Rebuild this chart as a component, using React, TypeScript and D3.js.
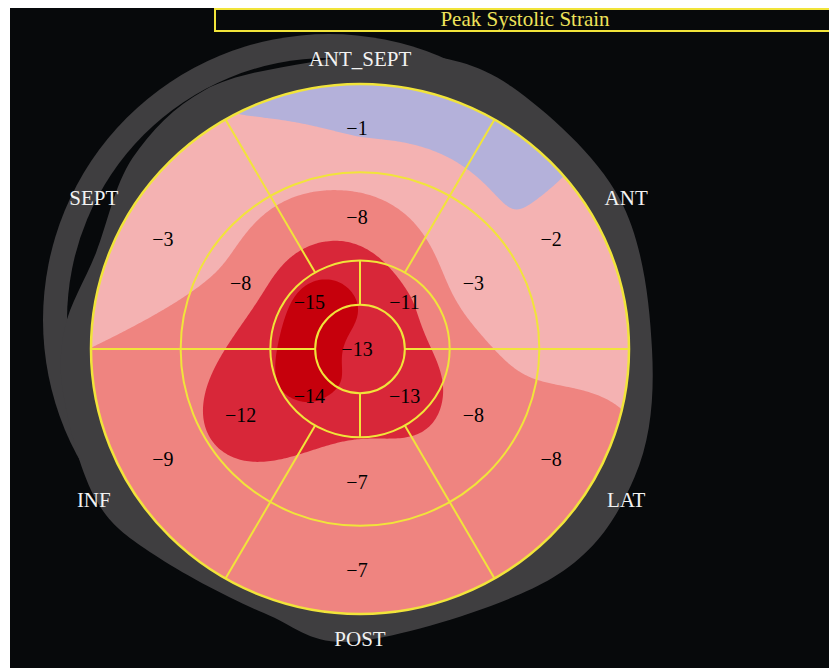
import React, { useMemo } from "react";
import * as d3 from "d3";

// ---------- data ----------
const regionNames = ["ANT_SEPT", "ANT", "LAT", "POST", "INF", "SEPT"];
const sixAngles = [90, 30, -30, -90, -150, 150]; // segment centres, deg, ccw from east
const basalValues = [-1, -2, -8, -7, -9, -3];
const midValues = [-8, -3, -8, -7, -12, -8];
const fourAngles = [135, 45, -45, -135];
const apicalValues = [-15, -11, -13, -14];
const apexValue = -13;
const strainThresholds = [1.45, 5.8, 10.5, 13.75]; // |strain| colour steps
const titleText = "Peak Systolic Strain";

// outline of the grey myocardium ring (angle deg, radius px)
const grayProfile: [number, number][] = [
  [0, 292], [30, 300], [60, 303], [80, 300], [100, 291], [121, 302], [140, 297],
  [160, 281], [176, 296], [190, 300], [210, 304], [225, 291], [250, 281],
  [270, 292], [310, 299], [335, 303],
];

// ---------- styles / layout ----------
const W = 829, H = 668;
const CX = 360, CY = 349, RX = 269, RY = 265;
const BG = "#07090b";
const GRAY = "#3f3e40";
const YEL = "#f1e43a";
const levelColors = ["#b4b1da", "#f4b2b2", "#ef8480", "#d82739", "#c6000c"];
const FONT = "'Liberation Serif', 'Times New Roman', serif";
const deg = Math.PI / 180;

function solve(A: number[][], b: number[]) {
  const n = b.length;
  const M = A.map((row, i) => [...row, b[i]]);
  for (let c = 0; c < n; c++) {
    let p = c;
    for (let r = c + 1; r < n; r++) if (Math.abs(M[r][c]) > Math.abs(M[p][c])) p = r;
    [M[c], M[p]] = [M[p], M[c]];
    for (let r = c + 1; r < n; r++) {
      const f = M[r][c] / M[c][c];
      for (let k = c; k <= n; k++) M[r][k] -= f * M[c][k];
    }
  }
  const x = new Array(n).fill(0);
  for (let r = n - 1; r >= 0; r--) {
    let s = M[r][n];
    for (let k = r + 1; k < n; k++) s -= M[r][k] * x[k];
    x[r] = s / M[r][r];
  }
  return x;
}

// biharmonic spline surface through the segment values placed at segment centres
function buildField() {
  const pts: [number, number, number][] = [];
  pts.push([0, 0, apexValue]);
  fourAngles.forEach((a, i) => pts.push([0.25 * Math.cos(a * deg), 0.25 * Math.sin(a * deg), apicalValues[i]]));
  sixAngles.forEach((a, i) => pts.push([0.5 * Math.cos(a * deg), 0.5 * Math.sin(a * deg), midValues[i]]));
  sixAngles.forEach((a, i) => pts.push([(5 / 6) * Math.cos(a * deg), (5 / 6) * Math.sin(a * deg), basalValues[i]]));
  const g = (d: number) => (d <= 1e-12 ? 0 : d * d * (Math.log(d) - 1));
  const A = pts.map((p) => pts.map((q) => g(Math.hypot(p[0] - q[0], p[1] - q[1]))));
  const w = solve(A, pts.map((p) => p[2]));
  return (u: number, v: number) => {
    let s = 0;
    for (let j = 0; j < pts.length; j++) s += w[j] * g(Math.hypot(u - pts[j][0], v - pts[j][1]));
    return s;
  };
}

export default function App() {
  const xs = d3.scaleLinear().domain([-1, 1]).range([CX - RX, CX + RX]);
  const ys = d3.scaleLinear().domain([-1, 1]).range([CY + RY, CY - RY]);
  const pol = (theta: number, rho: number): [number, number] => [
    xs(rho * Math.cos(theta * deg)),
    ys(rho * Math.sin(theta * deg)),
  ];

  const contourPaths = useMemo(() => {
    const f = buildField();
    const N = 260, lo = -1.04, hi = 1.04;
    const step = (hi - lo) / (N - 1);
    const values = new Array(N * N);
    for (let j = 0; j < N; j++) {
      const v = hi - j * step;
      for (let i = 0; i < N; i++) values[j * N + i] = -f(lo + i * step, v);
    }
    const cs = d3.contours().size([N, N]).thresholds(strainThresholds)(values);
    const proj = d3.geoTransform({
      point(x: number, y: number) {
        (this as any).stream.point(xs(lo + (x - 0.5) * step), ys(hi - (y - 0.5) * step));
      },
    });
    const path = d3.geoPath(proj as any);
    return cs.map((c) => path(c as any) || "");
  }, []);

  const ellipsePath = (rho: number) =>
    `M${CX - RX * rho},${CY}a${RX * rho},${RY * rho} 0 1,0 ${2 * RX * rho},0a${RX * rho},${RY * rho} 0 1,0 ${-2 * RX * rho},0Z`;

  const grayPath = d3
    .lineRadial<[number, number]>()
    .angle((d) => (90 - d[0]) * deg)
    .radius((d) => d[1])
    .curve(d3.curveCardinalClosed)(grayProfile) as string;

  const sixBounds = sixAngles.map((a) => a + 30);
  const fourBounds = fourAngles.map((a) => a + 45);

  const valueLabels: { t: number; r: number; v: number }[] = [
    ...sixAngles.map((a, i) => ({ t: a, r: 5 / 6, v: basalValues[i] })),
    ...sixAngles.map((a, i) => ({ t: a, r: 0.5, v: midValues[i] })),
    ...fourAngles.map((a, i) => ({ t: a, r: 0.25, v: apicalValues[i] })),
    { t: 0, r: 0, v: apexValue },
  ];

  return (
    <svg width={W} height={H} style={{ position: "absolute", left: 0, top: 0, background: "#fff" }}>
      <defs>
        <clipPath id="bull">
          <path d={ellipsePath(1)} />
        </clipPath>
      </defs>
      <rect x={10} y={8} width={W - 10} height={H - 8} fill={BG} />
      {/* grey ring */}
      <circle cx={329} cy={320} r={286} fill={GRAY} />
      <circle cx={329} cy={320} r={262} fill={BG} />
      <path d={grayPath} transform={`translate(${CX},${CY})`} fill={GRAY} />
      {/* bull's eye fill */}
      <g clipPath="url(#bull)">
        <path d={ellipsePath(1.01)} fill={levelColors[0]} />
        {contourPaths.map((d, k) => (
          <path key={k} d={d} fill={levelColors[k + 1]} />
        ))}
      </g>
      {/* grid lines */}
      <g stroke={YEL} fill="none" strokeWidth={2}>
        {[2 / 3, 1 / 3, 1 / 6].map((r) => (
          <path key={r} d={ellipsePath(r)} />
        ))}
        <path d={ellipsePath(1)} strokeWidth={2.5} />
        {sixBounds.map((a) => {
          const [x1, y1] = pol(a, 1 / 3);
          const [x2, y2] = pol(a, 1);
          return <line key={"s" + a} x1={x1} y1={y1} x2={x2} y2={y2} />;
        })}
        {fourBounds.map((a) => {
          const [x1, y1] = pol(a, 1 / 6);
          const [x2, y2] = pol(a, 1 / 3);
          return <line key={"f" + a} x1={x1} y1={y1} x2={x2} y2={y2} />;
        })}
      </g>
      {/* value labels */}
      <g fontFamily={FONT} fontSize={20} fill="#000" textAnchor="middle">
        {valueLabels.map((d, i) => {
          const [x, y] = pol(d.t, d.r);
          return (
            <text key={i} x={x - 3} y={y + 7}>
              {"\u2212" + Math.abs(d.v)}
            </text>
          );
        })}
      </g>
      {/* region labels */}
      <g fontFamily={FONT} fontSize={21} fill="#f2f2f2" textAnchor="middle">
        {regionNames.map((name, i) => {
          const t = sixAngles[i];
          const rho = 1.095 + 0.055 * Math.abs(Math.sin(2 * t * deg));
          const [x, y] = pol(t, rho);
          return (
            <text key={name} x={x} y={y + 7}>
              {name}
            </text>
          );
        })}
      </g>
      {/* title */}
      <rect x={215} y={9} width={630} height={22} fill="none" stroke={YEL} strokeWidth={2} />
      <text x={525} y={26} fontFamily={FONT} fontSize={21} fill="#eee35a" textAnchor="middle">
        {titleText}
      </text>
    </svg>
  );
}
